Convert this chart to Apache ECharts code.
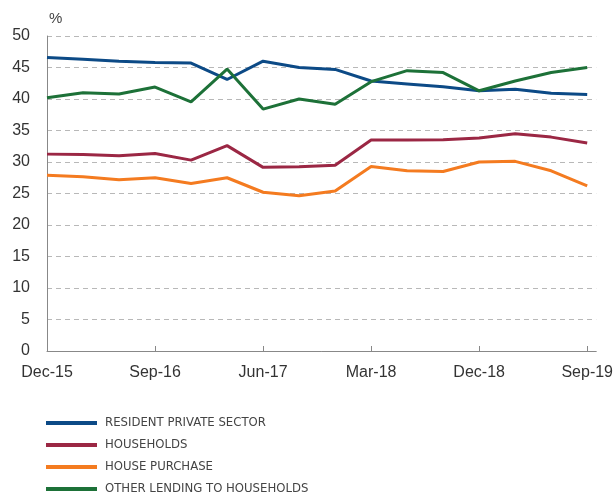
<!DOCTYPE html>
<html>
<head>
<meta charset="UTF-8">
<title>Lending shares</title>
<script src="https://cdn.jsdelivr.net/npm/echarts@6/dist/echarts.min.js"></script>
<style>
body,html{ padding:0px; margin:0px; background:#fff;}
#chart_box{ width:616px; height:494px; }
</style>
</head>
<body>
<div id="chart_box"></div>
<script type="text/javascript">
// quarters, Dec-15 .. Sep-19
var quarters = ["Dec-15","Mar-16","Jun-16","Sep-16","Dec-16","Mar-17","Jun-17","Sep-17",
                "Dec-17","Mar-18","Jun-18","Sep-18","Dec-18","Mar-19","Jun-19","Sep-19"];
var tickIdx = [0, 3, 6, 9, 12, 15];
var yTicks = [0, 5, 10, 15, 20, 25, 30, 35, 40, 45, 50];

var privateSector = [46.6, 46.3, 46.0, 45.8, 45.7, 43.1, 46.0, 45.0, 44.7, 42.85, 42.4, 41.95, 41.3, 41.55, 40.9, 40.7];
var households    = [31.25, 31.2, 31.0, 31.35, 30.3, 32.6, 29.15, 29.25, 29.5, 33.5, 33.5, 33.55, 33.8, 34.5, 33.95, 33.0];
var housePurchase = [27.9, 27.65, 27.2, 27.5, 26.6, 27.5, 25.2, 24.65, 25.4, 29.3, 28.6, 28.5, 30.0, 30.1, 28.6, 26.2];
var otherLending  = [40.2, 41.0, 40.8, 41.9, 39.55, 44.75, 38.4, 40.0, 39.15, 42.75, 44.5, 44.2, 41.3, 42.85, 44.2, 45.0];

var names  = ["RESIDENT PRIVATE SECTOR", "HOUSEHOLDS", "HOUSE PURCHASE", "OTHER LENDING TO HOUSEHOLDS"];
var colors = ["#0c4a86", "#9b2744", "#f47b20", "#1d7138"];

function pairs(arr){
    return arr.map(function(v, i){ return [i, v]; });
}

var myChart = echarts.init(document.getElementById('chart_box'));

var seriesData = [privateSector, households, housePurchase, otherLending];
var series = seriesData.map(function(d, k){
    return {
        name: names[k],
        type: 'line',
        data: pairs(d),
        symbol: 'none',
        lineStyle: { width: 3, color: colors[k] },
        itemStyle: { color: colors[k] }
    };
});

var option = {
    animation: false,
    grid: { left: 47, right: 16, top: 36, bottom: 143 },
    legend: {
        orient: 'vertical',
        left: 46,
        top: 415,
        height: 100,
        padding: 0,
        icon: 'rect',
        itemWidth: 51,
        itemHeight: 4,
        itemGap: 6,
        data: names,
        textStyle: { fontFamily: 'DejaVu Sans Condensed', fontSize: 13, color: '#444', lineHeight: 16, padding: [0,0,0,3] }
    },
    xAxis: {
        type: 'value',
        min: 0,
        max: 15.25,
        axisLine: { lineStyle: { color: '#888' } },
        axisTick: { inside: true, length: 5, lineStyle: { color: '#888' }, customValues: tickIdx },
        axisLabel: {
            customValues: tickIdx,
            formatter: function(v){ return quarters[Math.round(v)]; },
            fontFamily: 'Liberation Sans', fontSize: 16, color: '#333', margin: 14
        },
        splitLine: { show: false }
    },
    yAxis: {
        type: 'value',
        min: yTicks[0],
        max: yTicks[yTicks.length - 1],
        interval: 5,
        name: '%',
        nameGap: 10,
        nameTextStyle: { fontFamily: 'Liberation Sans', fontSize: 15, color: '#444', align: 'left', padding: [0,0,0,2] },
        axisLine: { show: true, lineStyle: { color: '#888' } },
        axisTick: { show: false },
        axisLabel: { fontFamily: 'Liberation Sans', fontSize: 16, color: '#333', margin: 17 },
        splitLine: { lineStyle: { color: '#b8b8b8', type: [5, 4] } }
    },
    series: series
};

myChart.setOption(option);
</script>
</body>
</html>
